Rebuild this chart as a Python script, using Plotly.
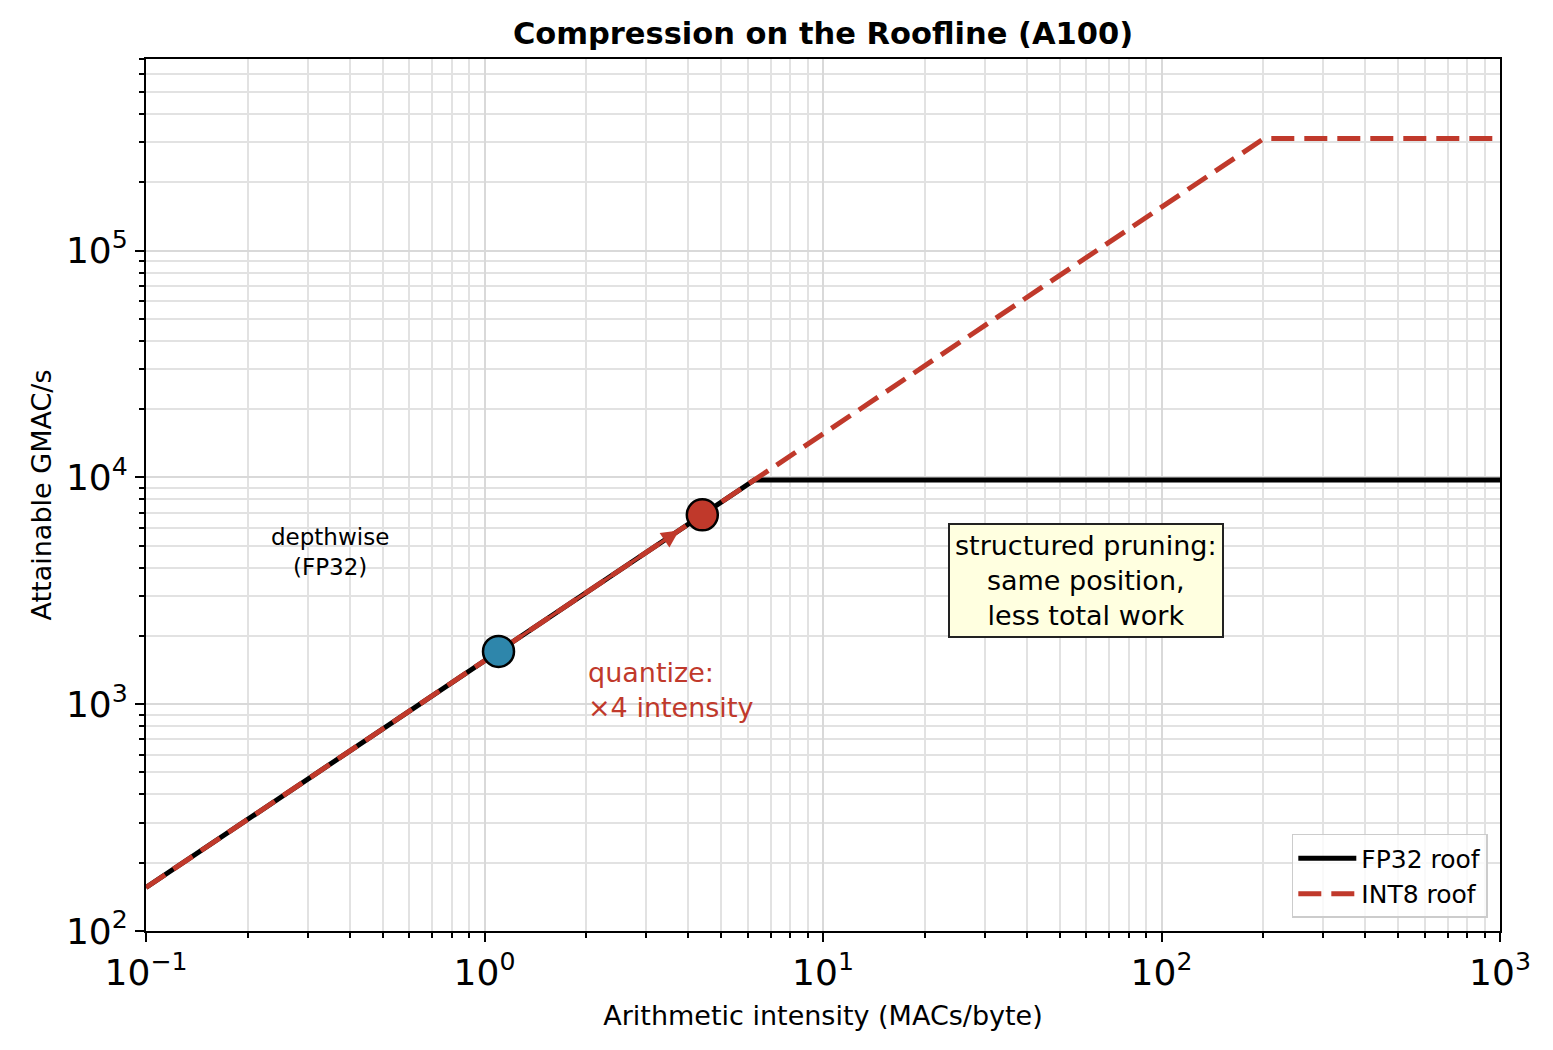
import numpy as np
import plotly.graph_objects as go

# roof corners (intensity in MACs/byte, GMAC/s)
fp32_x = [0.1, 6.27, 1000]
fp32_y = [155.5, 9750, 9750]
int8_x = [0.1, 200.6, 1000]
int8_y = [155.5, 312000, 312000]

# depthwise layer before / after quantization
point_names = ["depthwise FP32", "depthwise INT8"]
point_x = [1.1, 4.4]
point_y = [1710, 6840]
point_colors = ["#2e86ab", "#c0392b"]

x_ticks = [0.1, 1, 10, 100, 1000]
x_tick_text = ["10<sup>−1</sup>", "10<sup>0</sup>", "10<sup>1</sup>", "10<sup>2</sup>", "10<sup>3</sup>"]
y_ticks = [100, 1000, 10000, 100000]
y_tick_text = ["10<sup>2</sup>", "10<sup>3</sup>", "10<sup>4</sup>", "10<sup>5</sup>"]

red = "#c0392b"
font = "DejaVu Sans"

fig = go.Figure()

fig.add_trace(go.Scatter(x=fp32_x, y=fp32_y, mode="lines", name="FP32 roof",
                         line=dict(color="black", width=5)))
fig.add_trace(go.Scatter(x=int8_x, y=int8_y, mode="lines", name="INT8 roof",
                         line=dict(color=red, width=5, dash="23px,10px")))

for i in range(len(point_x)):
    fig.add_trace(go.Scatter(x=[point_x[i]], y=[point_y[i]], mode="markers", name=point_names[i],
                             showlegend=False,
                             marker=dict(size=31, color=point_colors[i],
                                         line=dict(color="black", width=2.5))))

# quantize arrow (log axes -> annotation coords in log10)
fig.add_annotation(x=np.log10(point_x[1]), y=np.log10(point_y[1]),
                   ax=np.log10(point_x[0]), ay=np.log10(point_y[0]),
                   xref="x", yref="y", axref="x", ayref="y",
                   text="", showarrow=True, arrowhead=2, arrowsize=1,
                   arrowwidth=3.5, arrowcolor=red, standoff=28, startstandoff=17)

fig.add_annotation(x=np.log10(0.35), y=np.log10(4700), xref="x", yref="y",
                   text="depthwise<br>(FP32)", showarrow=False,
                   font=dict(family=font, size=23, color="black"), align="center")

fig.add_annotation(x=np.log10(2.0), y=np.log10(1150), xref="x", yref="y",
                   text="quantize:<br>×4 intensity", showarrow=False,
                   xanchor="left", yanchor="middle", align="left",
                   font=dict(family=font, size=27, color=red))

fig.add_annotation(x=np.log10(60), y=np.log10(3500), xref="x", yref="y",
                   text="structured pruning:<br>same position,<br>less total work",
                   showarrow=False, align="center",
                   font=dict(family=font, size=27, color="black"),
                   bgcolor="#ffffe0", bordercolor="#222222", borderwidth=2, borderpad=5)

axis_common = dict(
    showline=True, linecolor="black", linewidth=2, mirror=True,
    ticks="outside", ticklen=9, tickwidth=2, tickcolor="black",
    showgrid=True, gridcolor="#d9d9d9", gridwidth=1.6,
    tickfont=dict(family=font, size=36, color="black"),
    zeroline=False,
    minor=dict(ticks="outside", ticklen=5, tickwidth=1.5, tickcolor="black",
               showgrid=True, gridcolor="#e2e2e2", gridwidth=1.5, dtick="D1"),
)

fig.update_xaxes(type="log", range=[-1, 3], tickvals=x_ticks, ticktext=x_tick_text,
                 title=dict(text="Arithmetic intensity (MACs/byte)", standoff=14,
                            font=dict(family=font, size=27, color="black")),
                 **axis_common)
fig.update_yaxes(type="log", range=[2, np.log10(7.0e5)], tickvals=y_ticks, ticktext=y_tick_text,
                 title=dict(text="Attainable GMAC/s", standoff=7,
                            font=dict(family=font, size=27, color="black")),
                 **axis_common)

# page has an 8px body margin, so the margins are shifted to compensate
fig.update_layout(
    width=1553, height=1050,
    margin=dict(l=138, r=61, t=51, b=127),
    plot_bgcolor="white", paper_bgcolor="white",
    font=dict(family=font, color="black"),
    title=dict(text="<b>Compression on the Roofline (A100)</b>", x=0.5, xref="paper",
               y=1 - 25 / 1050, yanchor="middle", xanchor="center",
               font=dict(family=font, size=30.5, color="black")),
    legend=dict(x=0.991, y=0.015, xanchor="right", yanchor="bottom", itemwidth=58,
                bgcolor="rgba(255,255,255,0.8)", bordercolor="#cccccc", borderwidth=1.5,
                font=dict(family=font, size=25, color="black")),
    showlegend=True,
)

fig.write_html("out.html")
